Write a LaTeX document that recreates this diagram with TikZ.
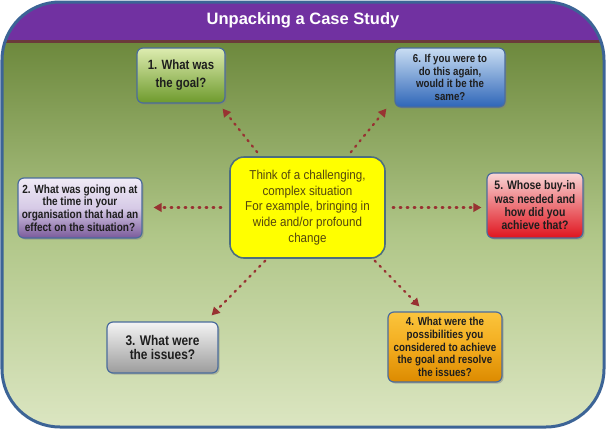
\documentclass[tikz,border=0pt]{standalone}
\usepackage{fontspec}
\setmainfont{Liberation Sans}
\newfontfamily\nbfont{Liberation Sans}[FakeStretch=0.85]
\newfontfamily\ncfont{Liberation Sans}[FakeStretch=0.9]
\usetikzlibrary{arrows.meta,shadows}
\definecolor{framecol}{HTML}{3C6496}
\definecolor{headpurple}{HTML}{7131A1}
\definecolor{headline}{HTML}{6B3A3A}
\definecolor{bgtop}{HTML}{6C883C}
\definecolor{bgmid}{HTML}{B0C688}
\definecolor{bgbot}{HTML}{DCE6C2}
\definecolor{boxborder}{HTML}{4B6C9C}
\definecolor{boxtext}{HTML}{1E1E1E}
\definecolor{centertext}{HTML}{54460E}
\definecolor{centerborder}{HTML}{4C6E7F}
\definecolor{arrowred}{HTML}{983232}
\definecolor{gtop}{HTML}{DDECB0}
\definecolor{gbot}{HTML}{6E9A2C}
\definecolor{btop}{HTML}{C9DDF3}
\definecolor{bbot}{HTML}{2E66B8}
\definecolor{ltop}{HTML}{F0EBF6}
\definecolor{lmid}{HTML}{D6CAE6}
\definecolor{lbot}{HTML}{7A5A9A}
\definecolor{rtop}{HTML}{F9D6D6}
\definecolor{rbot}{HTML}{E0141E}
\definecolor{ytop}{HTML}{F4F4F4}
\definecolor{ybot}{HTML}{9C9C9C}
\definecolor{otop}{HTML}{FBC43C}
\definecolor{omid}{HTML}{F2AC1E}
\definecolor{obot}{HTML}{DC8A00}
\definecolor{centerfill}{HTML}{FFFF00}
\tikzset{
  qbox/.style={draw=boxborder, line width=1.2pt, rounded corners=6pt, inner sep=0pt,
    align=center, text=boxtext,
    drop shadow={opacity=0.45, shadow xshift=1.6pt, shadow yshift=-1.6pt}},
  conn/.style={draw=arrowred, line width=2.3pt, dash pattern=on 1.5pt off 5.5pt,
    line cap=round, -{Triangle[length=8pt,width=8.5pt]}},
}
\begin{document}
\begin{tikzpicture}[x=1pt,y=-1pt]
\useasboundingbox (0,0) rectangle (606,429);
\begin{scope}
  \clip[rounded corners=58pt] (2,2) rectangle (604,427);
  \fill[top color=bgtop, bottom color=bgbot, middle color=bgmid] (0,40) rectangle (606,429);
  \fill[headpurple] (0,0) rectangle (606,40);
  \fill[headline] (0,40) rectangle (606,42.5);
\end{scope}
\draw[framecol, line width=3pt, rounded corners=58pt] (2,2) rectangle (604,427);
\node[text=white, font=\bfseries\fontsize{16.5}{18}\selectfont] (title) at (303,20) {Unpacking a Case Study};

\node[qbox, top color=gtop, bottom color=gbot, minimum width=88pt, minimum height=55pt,
  font=\nbfont\bfseries\fontsize{13.4}{18}\selectfont] (b1) at (181,75.5) {1. What was\\the goal?};
\node[qbox, top color=btop, bottom color=bbot, minimum width=110pt, minimum height=59pt,
  font=\nbfont\bfseries\fontsize{11.4}{12.5}\selectfont] (b6) at (450,77.5) {6. If you were to\\do this again,\\would it be the\\same?};
\node[qbox, top color=ltop, bottom color=lbot, middle color=lmid, minimum width=124pt, minimum height=60pt,
  font=\nbfont\bfseries\fontsize{11.8}{12.8}\selectfont] (b2) at (80,208) {2. What was going on at\\the time in your\\organisation that had an\\effect on the situation?};
\node[qbox, top color=rtop, bottom color=rbot, minimum width=96pt, minimum height=65pt,
  font=\nbfont\bfseries\fontsize{12.3}{13.3}\selectfont] (b5) at (535,205.5) {5. Whose buy-in\\was needed and\\how did you\\achieve that?};
\node[qbox, top color=ytop, bottom color=ybot, minimum width=111pt, minimum height=51pt,
  font=\nbfont\bfseries\fontsize{14}{14.5}\selectfont] (b3) at (162.5,347.5) {3. What were\\the issues?};
\node[qbox, top color=otop, bottom color=obot, middle color=omid, minimum width=114pt, minimum height=70pt,
  font=\nbfont\bfseries\fontsize{11.5}{12.8}\selectfont] (b4) at (445,347) {4. What were the\\possibilities you\\considered to achieve\\the goal and resolve\\the issues?};
\node[draw=centerborder, line width=1.6pt, rounded corners=14pt, fill=centerfill, inner sep=0pt,
  minimum width=155pt, minimum height=101pt, align=center, text=centertext,
  font=\ncfont\fontsize{12.9}{15.8}\selectfont] (c) at (307.5,207.5)
  {Think of a challenging,\\complex situation\\For example, bringing in\\wide and/or profound\\change};

\draw[conn] ([shift={(28,-4)}]c.north west) -- ([shift={(-3,5)}]b1.south east);
\draw[conn] ([shift={(-35,-4)}]c.north east) -- ([shift={(-8,1)}]b6.south west);
\draw[conn] ([shift={(-8,0)}]c.west) -- ([shift={(11,-0.5)}]b2.east);
\draw[conn] ([shift={(7,0)}]c.east) -- ([shift={(-5,2)}]b5.west);
\draw[conn] ([shift={(36,2)}]c.south west) -- ([shift={(-7,-6)}]b3.north east);
\draw[conn] ([shift={(-11,2)}]c.south east) -- ([shift={(32,-5)}]b4.north west);
\end{tikzpicture}
\end{document}
